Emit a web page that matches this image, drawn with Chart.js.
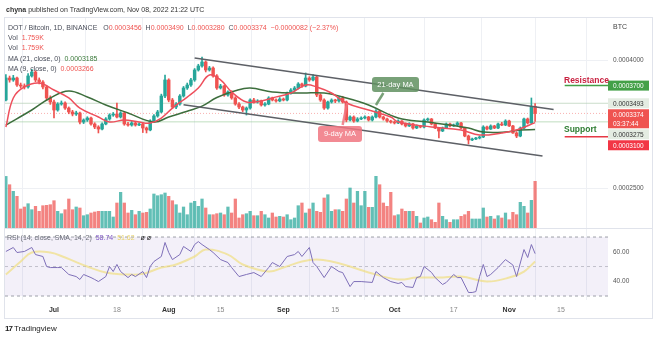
<!DOCTYPE html>
<html>
<head>
<meta charset="utf-8">
<script src="https://cdn.jsdelivr.net/npm/chart.js@4.4.0/dist/chart.umd.min.js"></script>
<style>
  html, body { margin: 0; padding: 0; background: #fff; }
  #wrap { position: relative; width: 660px; height: 337px; overflow: hidden; font-family: "Liberation Sans", Arial, sans-serif; }
  #frame { position: absolute; left: 4px; top: 17px; width: 647px; height: 300px; border: 1px solid #e0e3eb; }
  #sep { position: absolute; left: 5px; top: 228px; width: 647px; height: 1px; background: #e0e3eb; }
  #chart { position: absolute; left: 0; top: 0; }
  .t { position: absolute; white-space: nowrap; font-size: 7px; line-height: 9px; color: #4a4e5a; }
  .r { color: #ef5350; }
  .g { color: #3b7a3b; }
  .callout { position: absolute; color: #fff; font-size: 7.5px; line-height: 15px; text-align: center; border-radius: 3px; white-space: nowrap; }
  .level { position: absolute; font-weight: bold; font-size: 8.5px; white-space: nowrap; }
</style>
</head>
<body>
<div id="wrap">
  <div id="frame"></div>
  <canvas id="chart" width="660" height="337"></canvas>
  <div id="sep"></div>

  <div class="t" style="left:6px;top:5px;color:#333"><b>chyna</b> published on TradingView.com, Nov 08, 2022 21:22 UTC</div>
  <div class="t" style="left:8px;top:23px">DOT / Bitcoin, 1D, BINANCE&nbsp;&nbsp; O<span class="r">0.0003456</span>&nbsp; H<span class="r">0.0003490</span>&nbsp; L<span class="r">0.0003280</span>&nbsp; C<span class="r">0.0003374</span>&nbsp; <span class="r">−0.0000082 (−2.37%)</span></div>
  <div class="t" style="left:8px;top:33px">Vol&nbsp; <span class="r">1.759K</span></div>
  <div class="t" style="left:8px;top:43px">Vol&nbsp; <span class="r">1.759K</span></div>
  <div class="t" style="left:8px;top:54px">MA (21, close, 0)&nbsp; <span class="g">0.0003185</span></div>
  <div class="t" style="left:8px;top:64px">MA (9, close, 0)&nbsp; <span class="r">0.0003266</span></div>
  <div class="t" style="left:7px;top:233px;color:#6a6d78">RSI (14, close, SMA, 14, 2)&nbsp; <span style="color:#7e57c2">58.74</span>&nbsp; <span style="color:#e8d36a">51.62</span>&nbsp;&nbsp; <span style="color:#222">ø&nbsp;ø</span></div>
  <div class="t" style="left:613px;top:22px;color:#444">BTC</div>

  <div class="callout" style="left:372px;top:77px;width:47px;height:15px;background:rgba(96,145,96,0.85)">21-day MA</div>
  <div class="callout" style="left:318px;top:126px;width:44px;height:16px;background:rgba(240,118,128,0.85)">9-day MA</div>
  <div class="level" style="left:564px;top:75px;color:#c8203f">Resistance</div>
  <div class="level" style="left:564px;top:124px;color:#2e7d32">Support</div>

  <div class="t" style="left:5px;top:324px;font-size:8px;color:#222"><b style="letter-spacing:-1px">17</b> Tradingview</div>
</div>

<script>
// prices in units of 1e-7 BTC, one candle per day starting Jun 18 (day 0)
const openP = [3531,3789,3766,3789,3707,3695,3684,3813,3859,3766,
  3742,3684,3555,3508,3414,3484,3496,3437,3391,3367,
  3379,3273,3297,3320,3250,3215,3191,3250,3309,3355,
  3367,3332,3379,3250,3238,3262,3238,3250,3203,3180,
  3285,3344,3391,3578,3766,3531,3449,3484,3578,3672,
  3707,3766,3883,3930,3977,3883,3906,3813,3672,3695,
  3590,3625,3555,3484,3449,3414,3437,3531,3508,3520,
  3473,3484,3555,3531,3520,3543,3531,3613,3648,3672,
  3719,3695,3789,3766,3801,3590,3531,3437,3508,3531,
  3520,3555,3508,3297,3332,3285,3309,3320,3332,3297,
  3332,3402,3332,3309,3285,3273,3262,3285,3250,3227,
  3250,3203,3227,3215,3297,3309,3250,3203,3168,3203,
  3250,3227,3238,3262,3203,3109,3063,3074,3086,3098,
  3215,3191,3227,3203,3250,3238,3285,3227,3145,3109,
  3203,3309,3262,3456];
const highP = [3830,3812,3820,3800,3730,3720,3840,3890,3875,3790,
  3760,3700,3580,3530,3500,3520,3510,3450,3410,3400,
  3390,3310,3335,3330,3265,3230,3265,3325,3370,3385,
  3496,3395,3390,3270,3280,3275,3265,3262,3215,3300,
  3360,3410,3600,3824,3780,3550,3500,3595,3690,3730,
  3785,3900,3950,4035,3990,3925,3920,3830,3715,3705,
  3640,3640,3570,3500,3460,3450,3545,3550,3535,3530,
  3500,3570,3565,3545,3560,3555,3625,3665,3690,3735,
  3730,3848,3805,3830,3815,3605,3545,3520,3545,3540,
  3570,3575,3520,3345,3345,3325,3335,3345,3340,3345,
  3420,3410,3340,3320,3295,3285,3300,3290,3262,3265,
  3258,3240,3235,3310,3320,3315,3260,3212,3215,3262,
  3260,3250,3275,3270,3212,3120,3085,3095,3110,3230,
  3225,3240,3235,3262,3270,3300,3295,3235,3160,3215,
  3320,3320,3555,3490];
const lowP = [3520,3740,3750,3690,3670,3660,3670,3800,3745,3720,
  3660,3530,3480,3320,3400,3470,3420,3370,3345,3350,
  3250,3255,3280,3235,3195,3145,3180,3240,3295,3340,
  3320,3320,3235,3225,3225,3225,3230,3150,3145,3170,
  3270,3330,3380,3560,3510,3430,3430,3470,3565,3655,
  3690,3750,3870,3915,3860,3870,3800,3655,3660,3575,
  3575,3540,3470,3430,3395,3355,3425,3495,3495,3460,
  3460,3475,3520,3505,3510,3520,3520,3600,3635,3660,
  3680,3685,3750,3755,3570,3515,3420,3425,3495,3500,
  3505,3495,3275,3285,3270,3275,3300,3310,3285,3285,
  3320,3320,3295,3270,3260,3250,3255,3240,3215,3220,
  3190,3195,3205,3205,3285,3240,3195,3086,3160,3195,
  3215,3220,3230,3195,3100,3016,3055,3065,3075,3090,
  3180,3185,3195,3195,3230,3230,3220,3140,3090,3100,
  3195,3250,3255,3280];
const closeP = [3789,3766,3789,3707,3695,3684,3813,3859,3766,3742,
  3684,3555,3508,3414,3484,3496,3437,3391,3367,3379,
  3273,3297,3320,3250,3215,3191,3250,3309,3355,3367,
  3332,3379,3250,3238,3262,3238,3250,3203,3180,3285,
  3344,3391,3578,3766,3531,3449,3484,3578,3672,3707,
  3766,3883,3930,3977,3883,3906,3813,3672,3695,3590,
  3625,3555,3484,3449,3414,3437,3531,3508,3520,3473,
  3484,3555,3531,3520,3543,3531,3613,3648,3672,3719,
  3695,3789,3766,3801,3590,3531,3437,3508,3531,3520,
  3555,3508,3297,3332,3285,3309,3320,3332,3297,3332,
  3402,3332,3309,3285,3273,3262,3285,3250,3227,3250,
  3203,3227,3215,3297,3309,3250,3203,3168,3203,3250,
  3227,3238,3262,3203,3109,3063,3074,3086,3098,3215,
  3191,3227,3203,3250,3238,3285,3227,3145,3109,3203,
  3309,3262,3456,3374];
const volume = [51.6,43.3,36.7,31.7,19,21,24.3,18.3,21.7,16.7,
  22.3,22.7,23.3,27.3,16.7,14.3,18.3,29,18.3,21,
  20,12.3,13.3,15,16,16.7,16.7,16.7,16.7,11,
  25,35.7,25,15,17.7,13.3,16.7,15,15.7,19,
  34,32.3,33.3,35,31.7,27.3,23.3,15,21,13.3,
  25,26.7,21.7,29,20,13.3,13.3,14.3,15,13.3,
  21,15,29,10,13.3,14.3,16.7,12.3,12.3,16.7,
  13.3,10,15,11,11.7,11,13.3,8.3,10,22.3,
  25,15,19,25,16.7,15.7,30,33.3,16.7,18.3,
  18.3,16.7,29,40,25,36.7,22.3,36.7,20.7,20.7,
  51.7,43.3,25,21.7,35.7,12.3,13.3,19,16.7,16.7,
  16.7,11.7,5,10,11,8.3,5.7,25,11.7,8.3,
  5.7,8.3,8.3,11.7,13.3,16.7,9,9,9,20,
  11,11.7,9,12.3,10,15,8.3,15.7,13.3,25.7,
  21.7,15,27.7,46.7];

// moving averages
const ma9Day = [0,2,5,9,13,17,20,25,28,32,36,39,42,45,49,52,55,58,61,65,69,72,77,81,84,88,92,98,104,106,115,123,128,134,138,143];
const ma9Value = [3215,3555,3684,3730,3648,3555,3437,3332,3273,3297,3273,3262,3320,3437,3566,3672,3824,3766,3625,3508,3520,3555,3613,3707,3684,3613,3496,3414,3332,3273,3215,3180,3121,3145,3180,3266];
const ma21Day = [0,7,12,17,22,27,33,40,44,49,53,57,62,66,72,80,86,92,98,106,114,120,125,129,135,139,143];
const ma21Value = [3238,3414,3555,3637,3566,3473,3379,3273,3332,3400,3460,3560,3640,3672,3625,3613,3613,3555,3473,3320,3273,3238,3203,3156,3156,3180,3185];

// RSI pane
const rsiDay = [0,2,3,5,7,8,10,11,12,14,15,17,19,20,21,23,24,25,27,28,
  29,30,31,33,34,35,37,38,39,40,42,43,44,45,47,48,50,51,52,53,
  55,56,58,60,61,63,65,67,69,71,72,74,76,78,79,80,82,83,84,86,
  88,90,91,93,94,96,99,100,102,104,106,107,108,110,111,112,113,115,116,118,
  119,121,122,123,125,126,127,128,129,130,131,133,135,137,138,140,141,142,143];
const rsiValue = [60.2,62.9,59.5,60.2,62.9,58.1,56.8,50,49.3,49.3,49.3,44.6,43.2,41.2,44.6,42.5,41.2,39.8,43.2,50,
  46.6,51.4,46.6,42.5,44.6,43.2,46.6,42.5,50,53.4,56.8,66.3,59.5,54.7,58.1,63.6,60.2,64.9,66.9,64.9,
  61.5,59.5,54.7,52.7,49.3,43.2,44.6,45.9,43.2,49.3,52.7,50,56.8,58.1,60.2,56.8,62.9,52.7,50,42.5,
  50,46.6,45.9,36.4,39.8,39.8,39.2,46.6,42.5,39.8,38.5,39.2,36.4,35.8,42.5,43.2,50,46,42.5,37.8,
  39.2,44.6,42.5,42.5,32.4,32.4,33,43.2,51.4,43.2,44.6,49.3,54.7,51,43.2,61.5,56.1,64.9,58.74];
const rsiMaDay = [0,4,7,12,16,22,27,33,37,42,46,51,54,60,64,71,75,80,84,88,93,98,106,111,117,123,130,136,140,143];
const rsiMaValue = [44.6,53.4,59.5,59.5,56.1,50,46,44.6,45,49.3,51.4,56.8,61.5,58.1,51.4,46.6,49.3,53.4,54.7,53.4,50,46,41.2,42.5,42.5,43.2,39.8,42.5,46.6,53.4];
const rsiBands = [70, 50, 30];

// drawings: descending channel, levels, callout pointers
const upperDay = [51, 148], upperValue = [4023, 3420];
const lowerDay = [48, 145], lowerValue = [3475, 2875];
const resistanceValue = 3700, supportValue = 3100, levelStartDay = 151;
const priceLineValues = [3493, 3374, 3275];
const ma21PointerDay = [102, 100], ma21PointerValue = [3613, 3473];
const ma9PointerDay = [91, 92.2], ma9PointerValue = [3238, 3496];

// axes
const tickDays = [13, 30, 44, 58, 75, 89, 105, 121, 136, 150];
const tickLabels = ['Jul', '18', 'Aug', '15', 'Sep', '15', 'Oct', '17', 'Nov', '15'];
const priceTicks = [4000, 2500];
const rsiTicks = [60, 40];
const tagValues = [3700, 3493, 3374, 3275, 3100];
const countdown = '03:37:44';

const xMin = -0.24, xMax = 162.7;
const UP = '#26a69a', DOWN = '#ef5350';
const isUp = (i) => closeP[i] >= openP[i];
const pts = (xs, ys) => xs.map((x, i) => ({ x, y: ys[i] }));
const fmtPrice = (v) => (v / 1e7).toFixed(7);
const FONT = '"Liberation Sans", Arial, sans-serif';

const tagStyles = [
  { bg: '#43a047', fg: '#fff' },
  { bg: '#e4ece2', fg: '#333' },
  { bg: '#ef5350', fg: '#fff' },
  { bg: '#e4ece2', fg: '#333' },
  { bg: '#f23645', fg: '#fff' }
];

// RSI scale labels and price tags on the right, tags stacked so they never overlap
const rightLabels = {
  id: 'rightLabels',
  afterDraw(chart) {
    const { ctx, chartArea, scales } = chart;
    const x0 = chartArea.right;
    ctx.save();
    ctx.font = '6.5px ' + FONT;
    ctx.textBaseline = 'middle';
    ctx.fillStyle = '#555';
    rsiTicks.forEach((v) => ctx.fillText(v.toFixed(2), x0 + 5, scales.yRsi.getPixelForValue(v)));

    let prevBottom = -Infinity;
    tagValues.forEach((v, k) => {
      const lines = k === 2 ? [fmtPrice(v), countdown] : [fmtPrice(v)];
      const h = 10 + (lines.length - 1) * 9;
      const top = Math.max(scales.y.getPixelForValue(v) - 5, prevBottom + 1);
      ctx.fillStyle = tagStyles[k].bg;
      ctx.fillRect(x0, top, 41, h);
      ctx.fillStyle = tagStyles[k].fg;
      lines.forEach((t, j) => ctx.fillText(t, x0 + 5, top + 5.5 + j * 9));
      prevBottom = top + h;
    });
    ctx.restore();
  }
};

const lineDs = (data, color, width, axis, extra) => Object.assign({
  type: 'line', data, borderColor: color, borderWidth: width, pointRadius: 0,
  yAxisID: axis, fill: false, tension: 0
}, extra || {});

const datasets = [
  // RSI band fill and guides
  lineDs(pts([xMin, xMax], [rsiBands[0], rsiBands[0]]), 'rgba(120,123,134,0.7)', 1, 'yRsi',
    { borderDash: [3, 3], fill: '+2', backgroundColor: 'rgba(126,87,194,0.09)', order: 20 }),
  lineDs(pts([xMin, xMax], [rsiBands[1], rsiBands[1]]), 'rgba(120,123,134,0.4)', 1, 'yRsi',
    { borderDash: [3, 3], order: 19 }),
  lineDs(pts([xMin, xMax], [rsiBands[2], rsiBands[2]]), 'rgba(120,123,134,0.7)', 1, 'yRsi',
    { borderDash: [3, 3], order: 18 }),
  lineDs(pts(rsiMaDay, rsiMaValue), 'rgba(240,220,110,0.6)', 2, 'yRsi', { tension: 0.4, order: 3 }),
  lineDs(pts(rsiDay, rsiValue), '#7e6fb8', 1, 'yRsi', { order: 2 }),

  // volume
  {
    type: 'bar', yAxisID: 'yVol', grouped: false, barThickness: 2.6, order: 15,
    data: volume.map((v, i) => ({ x: i, y: v })),
    backgroundColor: (c) => isUp(c.dataIndex) ? 'rgba(38,166,154,0.72)' : 'rgba(239,83,80,0.72)'
  },

  // horizontal price lines
  lineDs(pts([xMin, xMax], [priceLineValues[0], priceLineValues[0]]), 'rgba(180,205,180,0.7)', 1, 'y', { order: 14 }),
  lineDs(pts([xMin, xMax], [priceLineValues[1], priceLineValues[1]]), 'rgba(239,83,80,0.45)', 1, 'y', { borderDash: [1, 2], order: 14 }),
  lineDs(pts([xMin, xMax], [priceLineValues[2], priceLineValues[2]]), 'rgba(150,200,150,0.6)', 1, 'y', { order: 14 }),

  // candles
  {
    type: 'bar', yAxisID: 'y', grouped: false, barThickness: 1, order: 9,
    data: highP.map((h, i) => ({ x: i, y: [lowP[i], h] })),
    backgroundColor: (c) => isUp(c.dataIndex) ? UP : DOWN
  },
  {
    type: 'bar', yAxisID: 'y', grouped: false, barThickness: 2.8, minBarLength: 1, order: 8,
    data: openP.map((o, i) => ({ x: i, y: [o, closeP[i]] })),
    backgroundColor: (c) => isUp(c.dataIndex) ? UP : DOWN
  },

  // moving averages
  lineDs(pts(ma21Day, ma21Value), '#3d6e3d', 1.5, 'y', { tension: 0.4, order: 6 }),
  lineDs(pts(ma9Day, ma9Value), '#ee4f5c', 1.5, 'y', { tension: 0.4, order: 5 }),

  // channel and levels
  lineDs(pts(upperDay, upperValue), '#5d6066', 1.5, 'y', { order: 4 }),
  lineDs(pts(lowerDay, lowerValue), '#5d6066', 1.5, 'y', { order: 4 }),
  lineDs(pts([levelStartDay, xMax], [resistanceValue, resistanceValue]), '#43a047', 1.5, 'y', { order: 4 }),
  lineDs(pts([levelStartDay, xMax], [supportValue, supportValue]), '#e53945', 1.5, 'y', { order: 4 }),
  lineDs(pts(ma21PointerDay, ma21PointerValue), 'rgba(96,145,96,0.85)', 2.5, 'y', { order: 4 }),
  lineDs(pts(ma9PointerDay, ma9PointerValue), 'rgba(240,118,128,0.85)', 2.5, 'y', { order: 4 })
];

new Chart(document.getElementById('chart'), {
  type: 'bar',
  data: { datasets },
  plugins: [rightLabels],
  options: {
    responsive: false,
    animation: false,
    events: [],
    layout: { padding: { left: 5, top: 18, right: 0, bottom: 19 } },
    plugins: { legend: { display: false }, tooltip: { enabled: false } },
    scales: {
      x: {
        type: 'linear', min: xMin, max: xMax, offset: false,
        afterBuildTicks: (s) => { s.ticks = tickDays.map((v) => ({ value: v })); },
        afterFit: (s) => { s.height = 18; },
        ticks: {
          autoSkip: false, maxRotation: 0, padding: 6,
          callback: (v) => tickLabels[tickDays.indexOf(v)],
          color: (c) => isNaN(tickLabels[c.index]) ? '#333' : '#888',
          font: (c) => ({ family: FONT, size: 7, weight: isNaN(tickLabels[c.index]) ? 'bold' : 'normal' })
        },
        grid: { color: '#eef0f4', drawTicks: false },
        border: { display: false }
      },
      y: {
        position: 'right', min: 1187.5, max: 4492.2,
        afterBuildTicks: (s) => { s.ticks = priceTicks.map((v) => ({ value: v })); },
        afterFit: (s) => { s.width = 52; },
        ticks: { padding: 5, color: '#555', font: { family: FONT, size: 6.5 }, callback: (v) => fmtPrice(v) },
        grid: { color: '#eef0f4', drawTicks: false },
        border: { display: false }
      },
      yVol: { display: false, min: -72, max: 210 },
      yRsi: { display: false, min: 27.3, max: 218.5 }
    }
  }
});
</script>
</body>
</html>
